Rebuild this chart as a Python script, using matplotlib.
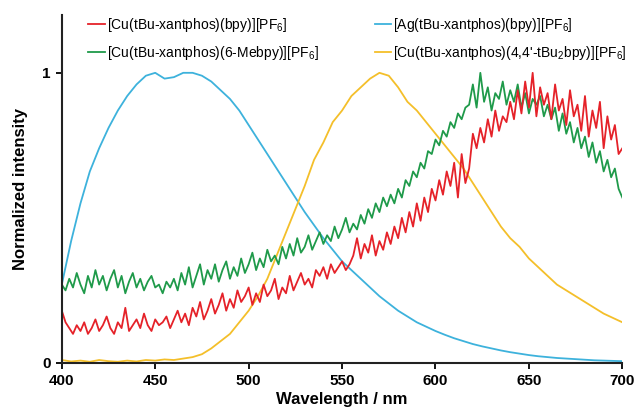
import numpy as np
import matplotlib
matplotlib.use("Agg")
import matplotlib.pyplot as plt

plt.rcParams['font.family'] = ['Liberation Sans', 'DejaVu Sans']
plt.rcParams['mathtext.fontset'] = 'custom'
plt.rcParams['mathtext.rm'] = 'Liberation Sans'
plt.rcParams['mathtext.it'] = 'Liberation Sans:italic'
plt.rcParams['mathtext.bf'] = 'Liberation Sans:bold'

# noisy Cu spectra, sampled every 2 nm
wl_cu = np.arange(400, 701, 2)

red = [0.18, 0.14, 0.12, 0.10, 0.13, 0.11, 0.14, 0.10, 0.12, 0.15,
       0.11, 0.13, 0.16, 0.12, 0.10, 0.14, 0.12, 0.19, 0.11, 0.13,
       0.15, 0.12, 0.17, 0.13, 0.11, 0.15, 0.13, 0.14, 0.16, 0.12,
       0.15, 0.18, 0.14, 0.17, 0.13, 0.19, 0.16, 0.21, 0.15, 0.18,
       0.22, 0.17, 0.20, 0.24, 0.18, 0.22, 0.19, 0.25, 0.21, 0.23,
       0.26, 0.20, 0.24, 0.21, 0.27, 0.23, 0.25, 0.29, 0.22, 0.26,
       0.24, 0.30, 0.25, 0.28, 0.31, 0.27, 0.29, 0.26, 0.32, 0.30,
       0.33, 0.29, 0.34, 0.31, 0.33, 0.35, 0.32, 0.34, 0.37, 0.43,
       0.36, 0.41, 0.38, 0.44, 0.37, 0.42, 0.39, 0.45, 0.41, 0.47,
       0.43, 0.50, 0.45, 0.52, 0.47, 0.55, 0.49, 0.57, 0.52, 0.60,
       0.56, 0.63, 0.58, 0.66, 0.61, 0.69, 0.57, 0.72, 0.62, 0.67,
       0.79, 0.74, 0.81, 0.76, 0.84, 0.78, 0.87, 0.80, 0.85, 0.83,
       0.90, 0.84, 0.94, 0.86, 0.97, 0.88, 1.00, 0.85, 0.95, 0.89,
       0.93, 0.84, 0.96, 0.87, 0.91, 0.82, 0.94, 0.85, 0.89, 0.80,
       0.92, 0.78, 0.87, 0.81, 0.90, 0.74, 0.85, 0.77, 0.82, 0.72,
       0.74]

green = [0.27, 0.25, 0.29, 0.26, 0.31, 0.27, 0.24, 0.30, 0.26, 0.32,
         0.27, 0.30, 0.25, 0.29, 0.32, 0.26, 0.30, 0.24, 0.28, 0.31,
         0.26, 0.29, 0.25, 0.28, 0.30, 0.26, 0.27, 0.24, 0.28, 0.26,
         0.29, 0.25, 0.31, 0.27, 0.33, 0.26, 0.30, 0.34, 0.27, 0.32,
         0.29, 0.34, 0.28, 0.32, 0.35, 0.29, 0.33, 0.30, 0.36, 0.31,
         0.34, 0.38, 0.32, 0.36, 0.33, 0.39, 0.35, 0.37, 0.34, 0.40,
         0.36, 0.41, 0.37, 0.43, 0.38, 0.40, 0.44, 0.39, 0.42, 0.45,
         0.41, 0.44, 0.42, 0.47, 0.43, 0.46, 0.50, 0.45, 0.48, 0.46,
         0.51, 0.48, 0.53, 0.50, 0.55, 0.52, 0.57, 0.54, 0.58, 0.55,
         0.60, 0.57, 0.63, 0.61, 0.66, 0.64, 0.69, 0.67, 0.73, 0.72,
         0.77, 0.75, 0.80, 0.78, 0.83, 0.81, 0.86, 0.84, 0.88, 0.89,
         0.96, 0.88, 1.00, 0.90, 0.95, 0.87, 0.93, 0.91, 0.97, 0.89,
         0.94, 0.90, 0.96, 0.88, 0.93, 0.86, 0.91, 0.89, 0.92, 0.85,
         0.89, 0.84, 0.88, 0.80, 0.86, 0.79, 0.83, 0.76, 0.81, 0.74,
         0.78, 0.71, 0.76, 0.69, 0.73, 0.66, 0.70, 0.64, 0.67, 0.60,
         0.57]

# smoother spectra, every 5 nm
wl_5 = np.arange(400, 701, 5)

blue = [0.27, 0.42, 0.55, 0.66, 0.74, 0.81, 0.87, 0.92, 0.96, 0.99,
        1.00, 0.98, 0.985, 1.00, 1.00, 0.99, 0.97, 0.94, 0.91, 0.87,
        0.82, 0.77, 0.72, 0.67, 0.62, 0.57, 0.52, 0.475, 0.43, 0.39,
        0.35, 0.32, 0.29, 0.26, 0.23, 0.205, 0.18, 0.16, 0.14, 0.125,
        0.11, 0.097, 0.085, 0.075, 0.065, 0.057, 0.05, 0.043, 0.037, 0.032,
        0.027, 0.023, 0.02, 0.017, 0.015, 0.013, 0.011, 0.009, 0.008, 0.007,
        0.006]

yellow = [0.01, 0.005, 0.008, 0.004, 0.01, 0.006, 0.004, 0.008, 0.005, 0.01,
          0.008, 0.012, 0.01, 0.015, 0.02, 0.03, 0.05, 0.075, 0.10, 0.14,
          0.18, 0.23, 0.29, 0.37, 0.45, 0.53, 0.61, 0.70, 0.76, 0.83,
          0.87, 0.92, 0.95, 0.98, 1.00, 0.99, 0.95, 0.90, 0.87, 0.83,
          0.79, 0.75, 0.71, 0.67, 0.62, 0.57, 0.52, 0.47, 0.43, 0.40,
          0.36, 0.33, 0.30, 0.27, 0.25, 0.23, 0.21, 0.19, 0.17, 0.155,
          0.14]

labels = [r'[Cu(tBu-xantphos)(bpy)][PF$_{6}$]',
          r'[Ag(tBu-xantphos)(bpy)][PF$_{6}$]',
          r'[Cu(tBu-xantphos)(6-Mebpy)][PF$_{6}$]',
          r"[Cu(tBu-xantphos)(4,4'-tBu$_{2}$bpy)][PF$_{6}$]"]

c_red = '#e52229'
c_blue = '#3db2dc'
c_green = '#1f9a4a'
c_yellow = '#f4bf2a'

fig = plt.figure(figsize=(6.37, 4.11), dpi=100)
ax = fig.add_axes([0.097, 0.117, 0.880, 0.847])

l_blue, = ax.plot(wl_5, blue, color=c_blue, lw=1.3)
l_yel, = ax.plot(wl_5, yellow, color=c_yellow, lw=1.3)
l_green, = ax.plot(wl_cu, green, color=c_green, lw=1.3)
l_red, = ax.plot(wl_cu, red, color=c_red, lw=1.3)

ax.set_xlim(400, 700)
ax.set_ylim(0, 1.2)
ax.set_xticks([400, 450, 500, 550, 600, 650, 700])
ax.set_yticks([0, 1])
for s in ['top', 'right']:
    ax.spines[s].set_visible(False)
for s in ['left', 'bottom']:
    ax.spines[s].set_linewidth(1.5)
    ax.spines[s].set_color('#222222')
ax.tick_params(direction='out', length=4, width=1.3, labelsize=11, pad=4)
for t in ax.get_xticklabels() + ax.get_yticklabels():
    t.set_fontweight('bold')

ax.set_xlabel('Wavelength / nm', fontsize=12, fontweight='bold', labelpad=3)
ax.set_ylabel('Normalized intensity', fontsize=12, fontweight='bold', labelpad=10)

leg_kw = dict(frameon=False, fontsize=10, loc='upper left',
              bbox_transform=fig.transFigure, handlelength=1.2,
              handletextpad=0.15, labelspacing=0.75, borderaxespad=0,
              borderpad=0)
leg1 = ax.legend([l_red, l_green], [labels[0], labels[2]],
                 bbox_to_anchor=(0.138, 0.962), **leg_kw)
ax.add_artist(leg1)
ax.legend([l_blue, l_yel], [labels[1], labels[3]],
          bbox_to_anchor=(0.588, 0.962), **leg_kw)

fig.savefig('out.png', dpi=100)
